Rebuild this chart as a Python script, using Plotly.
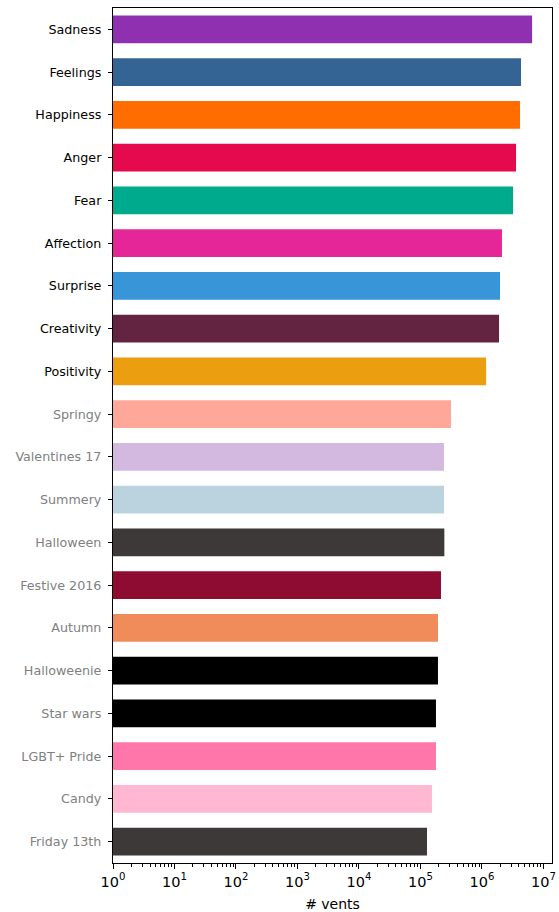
import plotly.graph_objects as go

categories = ["Sadness", "Feelings", "Happiness", "Anger", "Fear", "Affection",
              "Surprise", "Creativity", "Positivity", "Springy", "Valentines 17",
              "Summery", "Halloween", "Festive 2016", "Autumn", "Halloweenie",
              "Star wars", "LGBT+ Pride", "Candy", "Friday 13th"]
vents = [6.55e6, 4.33e6, 4.17e6, 3.59e6, 3.21e6, 2.12e6, 1.97e6, 1.90e6, 1.17e6,
         3.14e5, 2.42e5, 2.42e5, 2.45e5, 2.16e5, 1.93e5, 1.93e5, 1.79e5, 1.79e5,
         1.54e5, 1.28e5]
colors = ["#8F30B0", "#336494", "#FF6D00", "#E50A4E", "#00AA8C", "#E52698",
          "#3895D8", "#632442", "#EB9E10", "#FFA89A", "#D3B8E0", "#BBD2DF",
          "#3D3938", "#8E0C32", "#F08C5A", "#000000", "#000000", "#FF77AA",
          "#FFB7D2", "#3D3938"]
is_core = [True] * 9 + [False] * 11
x_tick_exponents = [0, 1, 2, 3, 4, 5, 6, 7]

ticktext_y = [c if core else '<span style="color:#808080">%s</span>' % c
              for c, core in zip(categories, is_core)]

major_vals = [10 ** e for e in x_tick_exponents]
major_text = ["10<sup>%d</sup>" % e for e in x_tick_exponents]
minor_vals = [m * 10 ** e for e in x_tick_exponents[:-1] for m in range(2, 10)]

fig = go.Figure(go.Bar(
    x=vents, y=categories, orientation="h",
    marker=dict(color=colors, line=dict(width=0)),
    width=0.65,
))

fig.update_layout(
    width=559, height=912,
    margin=dict(l=113, r=7, t=8, b=49),
    plot_bgcolor="white", paper_bgcolor="white",
    font=dict(family="DejaVu Sans", color="black"),
    showlegend=False,
)
fig.update_xaxes(
    type="log", range=[0, 7.14], automargin=False,
    tickmode="array", tickvals=major_vals, ticktext=major_text,
    ticks="outside", ticklen=5, tickwidth=1, tickcolor="black",
    tickfont=dict(size=14.5),
    minor=dict(tickmode="array", tickvals=minor_vals, ticks="outside",
               ticklen=3, tickwidth=0.8, tickcolor="black", showgrid=False),
    showgrid=False, zeroline=False,
    showline=True, linecolor="black", linewidth=1.2, mirror=True,
    title=dict(text="# vents", font=dict(size=14), standoff=10),
)
fig.update_yaxes(
    type="category", categoryorder="array", categoryarray=categories,
    autorange=False, range=[19.5, -0.5], automargin=False,
    tickmode="array", tickvals=categories, ticktext=ticktext_y,
    ticks="outside", ticklen=4, tickwidth=1, tickcolor="black",
    tickfont=dict(size=12.7), ticklabelstandoff=4,
    showgrid=False, zeroline=False,
    showline=True, linecolor="black", linewidth=1.2, mirror=True,
)

fig.write_html("out.html", config={"displayModeBar": False},
               post_script="document.body.style.margin='0';document.body.style.overflow='hidden';")
